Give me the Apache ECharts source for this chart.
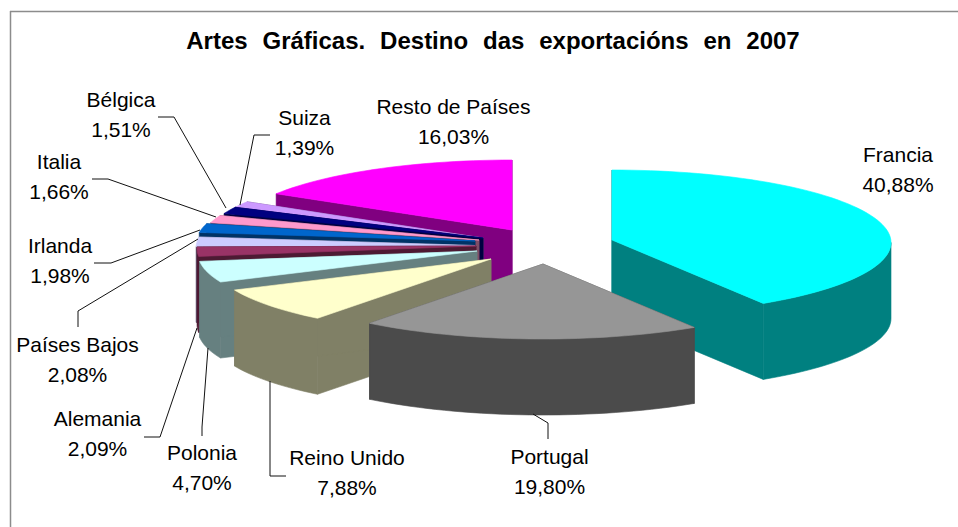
<!DOCTYPE html>
<html><head><meta charset="utf-8">
<style>html,body{margin:0;padding:0;background:#fff}#c{width:958px;height:527px}
text[style*="bold"]{word-spacing:8.2px}</style>
<script src="https://cdn.jsdelivr.net/npm/echarts@6/dist/echarts.min.js"></script>
</head><body><div id="c"></div>
<script>
const titleText = 'Artes Gráficas. Destino das exportacións en 2007';
const categories = ['Francia','Portugal','Reino Unido','Polonia','Alemania','Países Bajos','Irlanda','Italia','Bélgica','Suiza','Resto de Países'];
const shares = [40.88,19.80,7.88,4.70,2.09,2.08,1.98,1.66,1.51,1.39,16.03];
const topColors = ['#00FFFF','#969696','#FFFFCC','#CCFFFF','#993366','#CCCCFF','#0066CC','#FF99CC','#000080','#CC99FF','#FF00FF'];
const sideColors = ['#008080','#4B4B4B','#808066','#668080','#4D1A33','#666680','#003366','#804D66','#000040','#664D80','#800080'];
// where each exploded slice's apex sits on the page
const apexX = [612,543,491,477,476,475,475,479,483,483,512];
const apexY = [240,264,259,251,246,245.5,241,240,238,238,230];
const drawOrder = [10,9,8,7,6,5,4,3,2,0,1];
const RX = 279, RY = 72.5, CY = 2.5, DEPTH = 76;
// label: centre x, first line y
const labelX = [898,549.5,347,202,97.5,77.5,60,59,121,304.5,453.5];
const labelY = [154,456,457,452,418,344,245,161,99,117,106];
const leaders = [
 [[533,414],[548,423],[548,439]],
 [[286,476],[270,476],[270,381]],
 [[202,436],[202,427],[208,348]],
 [[144,437],[160,437],[197,328]],
 [[78,327],[78,311],[198,239]],
 [[94,263],[111,263],[200,230]],
 [[92,179],[108,179],[216,217]],
 [[158,117],[174,117],[226,208]],
 [[270,135],[254,135],[240,205]]
];
const starts = []; let acc = 0;
shares.forEach(v => { starts.push(acc); acc += v; });
const total = acc;
function pt(i, deg, dz){ const r = deg*Math.PI/180; return [apexX[i]+RX*Math.sin(r), apexY[i]+CY-RY*Math.cos(r)+(dz||0)]; }
function arc(i, a, b, dz){ const n = Math.max(2, Math.ceil((b-a)/2)); const o=[]; for(let k=0;k<=n;k++) o.push(pt(i,a+(b-a)*k/n,dz)); return o; }
function poly(points, fill){ return {type:'polygon', shape:{points}, style:{fill, stroke:fill, lineWidth:0.6}}; }
function renderItem(params, api){
  const i = api.value(0), v = api.value(1);
  const a = starts[i]/total*360, b = a + v/total*360;
  const ax = apexX[i], ay = apexY[i], kids = [];
  const face = d => { const p = pt(i,d); return poly([[ax,ay],p,[p[0],p[1]+DEPTH],[ax,ay+DEPTH]], sideColors[i]); };
  kids.push(face(a), face(b));
  const wa = Math.max(a,90), wb = Math.min(b,270);
  if (wb > wa){ kids.push(poly(arc(i,wa,wb,0).concat(arc(i,wa,wb,DEPTH).reverse()), sideColors[i])); }
  kids.push(poly([[ax,ay]].concat(arc(i,a,b,0)), topColors[i]));
  return {type:'group', children:kids};
}
const font = 'Liberation Sans, Arial, sans-serif';
const graphics = [
 {type:'line', shape:{x1:10,y1:11.5,x2:958,y2:11.5}, style:{stroke:'#8c8c8c',lineWidth:1.5}},
 {type:'line', shape:{x1:10.5,y1:11,x2:10.5,y2:527}, style:{stroke:'#8c8c8c',lineWidth:1.5}}
];
leaders.forEach(p => graphics.push({type:'polyline', z:5, shape:{points:p}, style:{stroke:'#111',lineWidth:1,fill:null}}));
categories.forEach((c,i) => {
  graphics.push({type:'text', z:6, style:{x:labelX[i], y:labelY[i], text:c, fill:'#000', font:'21px '+font, textAlign:'center', textVerticalAlign:'middle'}});
  graphics.push({type:'text', z:6, style:{x:labelX[i], y:labelY[i]+30, text:shares[i].toFixed(2).replace('.',',')+'%', fill:'#000', font:'21px '+font, textAlign:'center', textVerticalAlign:'middle'}});
});
const chart = echarts.init(document.getElementById('c'), null, {renderer:'svg'});
chart.setOption({
  animation:false,
  backgroundColor:'#fff',
  title:{text:titleText, left:488, top:23, textAlign:'center', textStyle:{fontFamily:font, fontWeight:'bold', fontSize:24, color:'#000'}},
  graphic:graphics,
  series:[{type:'custom', coordinateSystem:'none', renderItem, silent:true, z:2,
    data:drawOrder.map(i => [i, shares[i]])}]
});
</script></body></html>
